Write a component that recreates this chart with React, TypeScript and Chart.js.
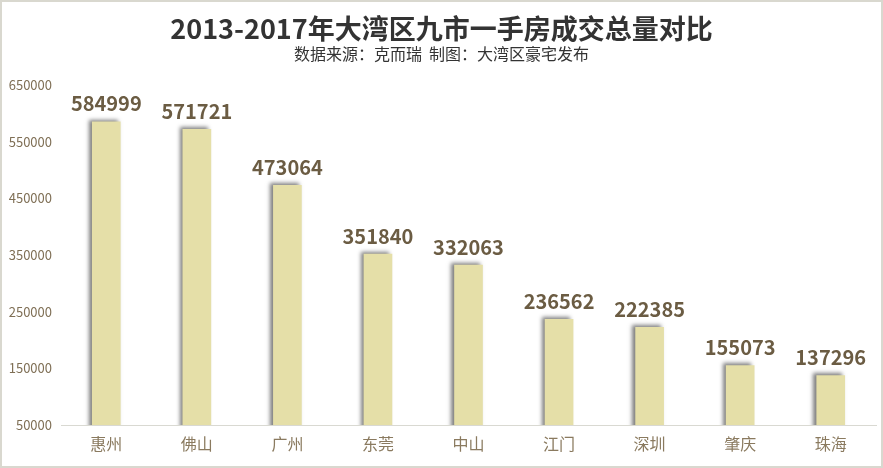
import React, { useEffect, useRef } from "react";
import { Chart, registerables } from "chart.js";

Chart.register(...registerables);

const categories = ["惠州", "佛山", "广州", "东莞", "中山", "江门", "深圳", "肇庆", "珠海"];
const volumes = [584999, 571721, 473064, 351840, 332063, 236562, 222385, 155073, 137296];
const titleText = "2013-2017年大湾区九市一手房成交总量对比";
const subtitleText = "数据来源：克而瑞  制图：大湾区豪宅发布";

const FONT = "'Noto Sans CJK SC', 'Noto Sans', sans-serif";

export default function App() {
  const ref = useRef<HTMLCanvasElement | null>(null);

  useEffect(() => {
    document.body.style.margin = "0";
    const canvas = ref.current;
    if (!canvas) return;

    const decor = {
      id: "decor",
      beforeDraw(chart: any) {
        const ctx = chart.ctx;
        ctx.save();
        ctx.fillStyle = "#ffffff";
        ctx.fillRect(0, 0, chart.width, chart.height);
        ctx.strokeStyle = "#d9d8cf";
        ctx.lineWidth = 2;
        ctx.strokeRect(1, 1, chart.width - 2, chart.height - 2);
        ctx.textAlign = "center";
        ctx.textBaseline = "middle";
        ctx.fillStyle = "#333333";
        ctx.font = `bold 27px ${FONT}`;
        ctx.fillText(titleText, chart.width / 2, 29);
        ctx.font = `16px ${FONT}`;
        ctx.fillText(subtitleText, chart.width / 2, 54);
        ctx.restore();
      },
      beforeDatasetsDraw(chart: any) {
        const ctx = chart.ctx;
        ctx.save();
        ctx.shadowColor = "rgba(0,0,0,0.5)";
        ctx.shadowBlur = 4;
        ctx.shadowOffsetX = -3;
        ctx.shadowOffsetY = -2;
      },
      afterDatasetsDraw(chart: any) {
        const ctx = chart.ctx;
        ctx.restore();
        ctx.save();
        ctx.font = `bold 20px ${FONT}`;
        ctx.fillStyle = "#6b5c43";
        ctx.textAlign = "center";
        ctx.textBaseline = "bottom";
        const meta = chart.getDatasetMeta(0);
        meta.data.forEach((bar: any, i: number) => {
          ctx.fillText(String(volumes[i]), bar.x, bar.y - 8);
        });
        ctx.restore();
      },
    };

    const chart = new Chart(canvas, {
      type: "bar",
      data: {
        labels: categories,
        datasets: [
          {
            data: volumes,
            backgroundColor: "#e5dfa8",
            borderWidth: 0,
            barThickness: 28,
          },
        ],
      },
      options: {
        animation: false,
        responsive: false,
        devicePixelRatio: 1,
        layout: { padding: { top: 85, right: 7, left: 0, bottom: 0 } },
        plugins: {
          legend: { display: false },
          title: { display: false },
          tooltip: { enabled: false },
        },
        scales: {
          x: {
            grid: { display: false, drawTicks: false },
            border: { display: true, color: "#d9d9d2", width: 1 },
            ticks: {
              color: "#8a7a5f",
              font: { family: FONT, size: 16 },
              padding: 9,
            },
            afterFit(scale: any) {
              scale.height = 43;
            },
          },
          y: {
            min: 50000,
            max: 650000,
            grid: { display: false, drawTicks: false },
            border: { display: false },
            ticks: {
              stepSize: 100000,
              color: "#7f6f55",
              font: { family: FONT, size: 13 },
              padding: 9,
              callback: (v: any) => String(v),
            },
            afterFit(scale: any) {
              scale.width = 61;
            },
          },
        },
      },
      plugins: [decor],
    } as any);

    return () => chart.destroy();
  }, []);

  return (
    <div style={{ width: 883, height: 468 }}>
      <canvas ref={ref} width={883} height={468} style={{ display: "block", width: 883, height: 468 }} />
    </div>
  );
}
